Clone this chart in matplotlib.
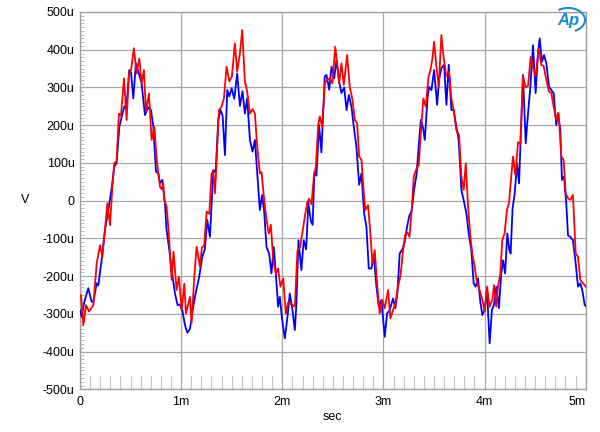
import matplotlib
matplotlib.use("Agg")
import matplotlib.pyplot as plt
from matplotlib.patches import Arc
from matplotlib.ticker import MultipleLocator, FuncFormatter

plt.rcParams['font.family'] = ['Liberation Sans', 'DejaVu Sans']

# time in ms, voltage in microvolts
blue_t = [0.000, 0.016, 0.043, 0.082, 0.115, 0.132, 0.165, 0.181, 0.214, 0.247,
          0.280, 0.313, 0.339, 0.362, 0.389, 0.412, 0.438, 0.461, 0.487, 0.504,
          0.527, 0.553, 0.576, 0.609, 0.642, 0.675, 0.702, 0.725, 0.751, 0.774,
          0.791, 0.814, 0.840, 0.856, 0.883, 0.906, 0.939, 0.965, 0.988, 1.011,
          1.038, 1.061, 1.087, 1.120, 1.143, 1.176, 1.209, 1.235, 1.258, 1.285,
          1.318, 1.341, 1.367, 1.390, 1.410, 1.433, 1.456, 1.476, 1.499, 1.525,
          1.554, 1.581, 1.607, 1.630, 1.653, 1.680, 1.706, 1.729, 1.752, 1.778,
          1.801, 1.821, 1.844, 1.870, 1.893, 1.916, 1.936, 1.959, 1.976, 1.999,
          2.025, 2.048, 2.074, 2.101, 2.124, 2.140, 2.160, 2.189, 2.212, 2.236,
          2.258, 2.283, 2.300, 2.318, 2.338, 2.364, 2.387, 2.420, 2.437, 2.464,
          2.487, 2.513, 2.536, 2.562, 2.585, 2.612, 2.635, 2.658, 2.684, 2.707,
          2.733, 2.760, 2.783, 2.809, 2.832, 2.855, 2.881, 2.904, 2.931, 2.954,
          2.980, 3.013, 3.036, 3.062, 3.095, 3.118, 3.138, 3.161, 3.187, 3.210,
          3.234, 3.256, 3.280, 3.304, 3.328, 3.350, 3.370, 3.390, 3.409, 3.436,
          3.452, 3.475, 3.501, 3.531, 3.550, 3.573, 3.600, 3.623, 3.646, 3.672,
          3.695, 3.721, 3.744, 3.771, 3.797, 3.820, 3.843, 3.869, 3.892, 3.912,
          3.935, 3.958, 3.978, 4.001, 4.024, 4.050, 4.073, 4.093, 4.116, 4.142,
          4.165, 4.183, 4.203, 4.225, 4.245, 4.258, 4.277, 4.298, 4.321, 4.341,
          4.354, 4.380, 4.407, 4.430, 4.453, 4.479, 4.505, 4.528, 4.545, 4.568,
          4.588, 4.611, 4.637, 4.660, 4.683, 4.709, 4.726, 4.749, 4.765, 4.785,
          4.808, 4.825, 4.848, 4.874, 4.901, 4.924, 4.947, 4.966, 4.990, 5.000]
blue_v = [-290, -308, -268, -232, -268, -268, -219, -225, -157, -78,
          -25, 33, 90, 100, 196, 222, 249, 255, 346, 340,
          271, 364, 342, 311, 227, 247, 240, 196, 77, 72,
          46, 55, -7, -78, -131, -184, -246, -277, -275, -290,
          -330, -350, -340, -281, -246, -206, -149, -128, -51, -96,
          81, 75, 214, 240, 225, 121, 293, 276, 298, 270,
          337, 251, 290, 231, 271, 161, 130, 161, 72, -25,
          15, -29, -123, -140, -193, -123, -193, -281, -255, -316,
          -365, -316, -246, -290, -343, -272, -105, -184, -105, -129,
          -5, -55, -64, 77, 66, 200, 128, 329, 333, 294,
          355, 324, 373, 316, 285, 300, 240, 280, 249, 196,
          143, 42, 72, -33, -69, -180, -180, -144, -228, -281,
          -263, -361, -299, -290, -259, -285, -246, -140, -129, -110,
          -69, -40, -27, 30, 70, 150, 214, 196, 161, 271,
          302, 293, 346, 254, 320, 351, 360, 254, 360, 240,
          240, 196, 161, 28, -3, -33, -87, -131, -219, -228,
          -206, -268, -303, -290, -237, -378, -290, -276, -228, -285,
          -193, -158, -193, -87, -131, -140, -20, 19, 99, 46,
          140, 333, 152, 232, 302, 412, 285, 390, 430, 368,
          386, 364, 302, 293, 285, 200, 232, 187, 55, 64,
          -7, -92, -96, -105, -166, -228, -219, -237, -276, -279]

red_t = [0.000, 0.010, 0.033, 0.059, 0.089, 0.132, 0.165, 0.198, 0.221, 0.254,
         0.270, 0.297, 0.320, 0.339, 0.362, 0.385, 0.405, 0.435, 0.461, 0.484,
         0.504, 0.533, 0.560, 0.586, 0.609, 0.632, 0.652, 0.682, 0.708, 0.735,
         0.758, 0.791, 0.807, 0.823, 0.833, 0.856, 0.873, 0.906, 0.925, 0.955,
         0.978, 1.005, 1.031, 1.047, 1.087, 1.103, 1.130, 1.153, 1.186, 1.205,
         1.228, 1.252, 1.278, 1.301, 1.318, 1.334, 1.350, 1.373, 1.400, 1.423,
         1.449, 1.476, 1.502, 1.531, 1.554, 1.581, 1.604, 1.630, 1.653, 1.680,
         1.706, 1.729, 1.752, 1.778, 1.795, 1.818, 1.844, 1.867, 1.887, 1.910,
         1.936, 1.959, 1.982, 2.009, 2.035, 2.058, 2.091, 2.124, 2.150, 2.174,
         2.200, 2.223, 2.246, 2.266, 2.289, 2.312, 2.332, 2.355, 2.371, 2.394,
         2.421, 2.444, 2.470, 2.496, 2.523, 2.542, 2.562, 2.585, 2.608, 2.641,
         2.667, 2.694, 2.717, 2.740, 2.760, 2.783, 2.806, 2.822, 2.848, 2.871,
         2.891, 2.914, 2.937, 2.963, 2.987, 3.013, 3.046, 3.069, 3.095, 3.118,
         3.144, 3.168, 3.191, 3.214, 3.238, 3.258, 3.277, 3.300, 3.326, 3.349,
         3.370, 3.395, 3.418, 3.446, 3.465, 3.485, 3.501, 3.524, 3.547, 3.573,
         3.596, 3.623, 3.649, 3.672, 3.695, 3.721, 3.748, 3.771, 3.794, 3.814,
         3.837, 3.860, 3.879, 3.902, 3.925, 3.952, 3.978, 4.001, 4.024, 4.050,
         4.077, 4.093, 4.116, 4.133, 4.156, 4.175, 4.198, 4.221, 4.241, 4.264,
         4.281, 4.305, 4.331, 4.354, 4.380, 4.407, 4.430, 4.456, 4.479, 4.505,
         4.535, 4.561, 4.584, 4.611, 4.637, 4.660, 4.683, 4.709, 4.732, 4.759,
         4.782, 4.802, 4.825, 4.848, 4.874, 4.901, 4.924, 4.947, 4.973, 5.000]
red_v = [-255, -250, -330, -277, -294, -277, -166, -118, -149, -56,
         -7, -65, 37, 99, 105, 231, 225, 324, 214, 337,
         345, 404, 337, 377, 311, 346, 236, 284, 161, 196,
         108, 37, 30, 45, 2, -16, -69, -210, -135, -237,
         -202, -290, -220, -299, -255, -325, -202, -122, -175, -125,
         -118, -29, -35, 72, 78, 19, 99, 240, 249, 271,
         355, 316, 329, 417, 342, 390, 452, 316, 289, 231,
         243, 231, 143, 72, 76, 11, -51, -87, -64, -158,
         -193, -180, -228, -206, -299, -270, -275, -281, -132, -125,
         -83, -42, -5, 5, -10, 64, 90, 200, 223, 196,
         311, 320, 325, 311, 408, 364, 311, 364, 307, 386,
         302, 267, 214, 205, 117, 108, 19, -25, -12, -87,
         -166, -131, -219, -299, -263, -285, -237, -312, -290, -272,
         -228, -200, -140, -90, -85, -96, -33, 64, 84, 94,
         180, 271, 249, 328, 346, 378, 421, 355, 302, 439,
         378, 329, 342, 271, 240, 187, 174, 64, 28, 99,
         -16, -96, -140, -175, -219, -237, -263, -294, -228, -281,
         -263, -224, -281, -228, -193, -105, -87, -25, -7, 64,
         117, 68, 155, 150, 329, 300, 305, 381, 355, 329,
         403, 360, 357, 320, 289, 285, 249, 214, 232, 117,
         108, 19, 6, 2, 15, -140, -149, -210, -219, -228]

x_ticks = [0, 1, 2, 3, 4, 5]
x_labels = ["0", "1m", "2m", "3m", "4m", "5m"]
y_ticks = [-500, -400, -300, -200, -100, 0, 100, 200, 300, 400, 500]
y_labels = ["-500u", "-400u", "-300u", "-200u", "-100u", "0",
            "100u", "200u", "300u", "400u", "500u"]

fig = plt.figure(figsize=(6.0, 4.32), dpi=100)
ax = fig.add_axes([80/600, 1 - 389.3/432, (585.7-80)/600, (389.3-12)/432])

ax.plot(blue_t, blue_v, color='#0000ff', lw=1.3, zorder=3)
ax.plot(red_t, red_v, color='#ff0000', lw=1.3, zorder=4)

ax.set_xlim(0, 5)
ax.set_ylim(-500, 500)
ax.set_xticks(x_ticks)
ax.set_xticklabels(x_labels)
ax.set_yticks(y_ticks)
ax.set_yticklabels(y_labels)
ax.xaxis.set_minor_locator(MultipleLocator(0.1))
ax.yaxis.set_minor_locator(MultipleLocator(10))

ax.grid(True, which='major', color='#a8a8a8', lw=0.9, zorder=1)
ax.tick_params(which='major', length=0, labelsize=9, colors='black', pad=4)
ax.tick_params(axis='x', which='minor', direction='in', length=9.4,
               width=0.8, color='#c4c4c4', bottom=True, top=False)
ax.tick_params(axis='y', which='minor', direction='in', length=3.0,
               width=0.7, color='#b8b8b8', left=True, right=False)
ax.tick_params(axis='x', which='major', pad=5)
for s in ax.spines.values():
    s.set_color('#a0a0a0')
    s.set_linewidth(1.0)

lbls = ax.get_xticklabels()
lbls[-1].set_horizontalalignment('right')

fig.text(25/600, 1 - 200/432, "V", fontsize=9, ha='center', va='center')
fig.text(332/600, 1 - 417/432, "sec", fontsize=9, ha='center', va='center')

# AP logo
logo_color = '#1a8ccc'
fig.text(568/600, 1 - 20/432, "Ap", fontsize=12, fontstyle='italic',
         fontweight='bold', color=logo_color, ha='center', va='center')
arc = Arc((568/600, 1 - 20/432), 34/600, 24/432, angle=15, theta1=-80,
          theta2=110, color=logo_color, lw=1.5, transform=fig.transFigure)
fig.add_artist(arc)

fig.savefig("out.png", dpi=100)
